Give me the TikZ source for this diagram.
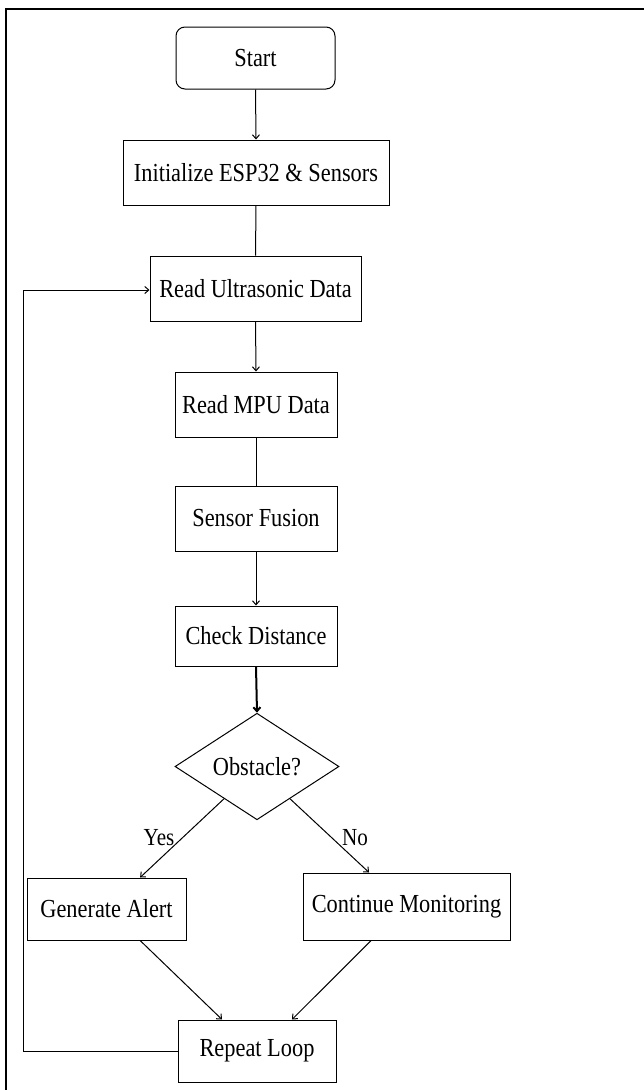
\documentclass[tikz,border=0pt]{standalone}
\usepackage{fontspec}
\setmainfont{Liberation Serif}[FakeStretch=0.86]
\usetikzlibrary{arrows.meta,positioning,shapes.geometric,calc}

\begin{document}
\begin{tikzpicture}[x=1pt,y=-1pt,
        box/.style={draw, line width=1pt, inner sep=0pt, align=center, minimum height=65pt, font=\fontsize{26}{30}\selectfont},
        startbox/.style={box, rounded corners=9pt, minimum width=159pt, minimum height=62pt},
        decision/.style={draw, line width=1pt, diamond, inner sep=0pt, minimum width=164pt, minimum height=99pt, font=\fontsize{26}{30}\selectfont},
        lbl/.style={font=\fontsize{24.5}{28}\selectfont, inner sep=0pt},
        arrow/.style={-{Straight Barb[length=4pt,width=7pt]}, line width=1pt},
        link/.style={line width=1pt}
    ]
        \useasboundingbox (0,0) rectangle (644,1090);
        \fill[white] (0,0) rectangle (644,1090);
        % page frame
        \draw[line width=1.6pt] (6,1090) -- (6,9) -- (644,9);

        \node[startbox] (start) at (255.5,58) {Start};
        \node[box, minimum width=266pt] (init) at (256,172.5) {Initialize ESP32 \& Sensors};
        \node[box, minimum width=211pt] (ultra) at (255.5,288.5) {Read Ultrasonic Data};
        \node[box, minimum width=162pt] (mpu) at (256,404.5) {Read MPU Data};
        \node[box, minimum width=162pt] (fusion) at (256,518.5) {Sensor Fusion};
        \node[box, minimum width=162pt, minimum height=60pt] (check) at (256,636) {Check Distance};
        \node[decision] (obst) at (257,766.5) {Obstacle?};
        \node[box, minimum width=159pt, minimum height=62pt] (alert) at (106.5,909) {Generate Alert};
        \node[box, minimum width=207pt, minimum height=67pt] (monitor) at (406.5,906.5) {Continue Monitoring};
        \node[box, minimum width=158pt, minimum height=62pt] (repeat) at (257,1051) {Repeat Loop};

        \coordinate (loopbot) at (23,1051);
        \coordinate (looptop) at (23,290);

        \draw[arrow] (start.south) -- (init.north);
        \draw[link] (init.south) -- (ultra.north);
        \draw[arrow] (ultra.south) -- (mpu.north);
        \draw[link] (mpu.south) -- (fusion.north);
        \draw[arrow] (fusion.south) -- (check.north);
        \draw[arrow, line width=2pt] (check.south) -- (obst.north);

        \draw[arrow] ($(obst.west)!0.6!(obst.south)$) -- ($(alert.north west)!0.71!(alert.north east)$);
        \draw[arrow] ($(obst.south)!0.4!(obst.east)$) -- ($(monitor.north west)!0.32!(monitor.north east)$);
        \node[lbl] (yes) at (159,838) {Yes};
        \node[lbl] (no) at (355,838) {No};

        \draw[arrow] ($(alert.south west)!0.71!(alert.south east)$) -- ($(repeat.north west)!0.28!(repeat.north east)$);
        \draw[arrow] ($(monitor.south west)!0.33!(monitor.south east)$) -- ($(repeat.north west)!0.72!(repeat.north east)$);

        \draw[arrow] (repeat.west) -- (loopbot) -- (looptop) -- (ultra.west |- looptop);
    \end{tikzpicture}
\end{document}
